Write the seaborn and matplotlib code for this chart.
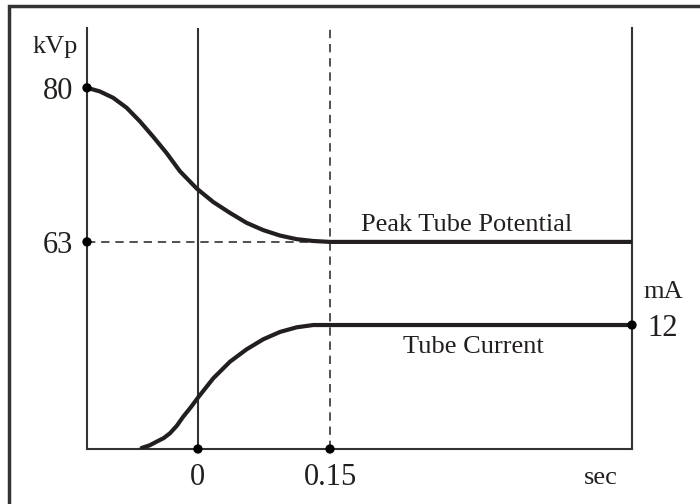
import matplotlib
matplotlib.use("Agg")
import matplotlib.pyplot as plt
import seaborn as sns
import pandas as pd
from matplotlib.patches import Rectangle

# ---- data ----
kvp_t = [-0.1258, -0.1114, -0.0963, -0.0810, -0.0659, -0.0508, -0.0356, -0.0205,
         -0.0015, 0.0174, 0.0364, 0.0553, 0.0742, 0.0932, 0.1122, 0.1310, 0.15, 0.493]
kvp_v = [80.0, 79.6, 78.9, 77.8, 76.3, 74.6, 72.8, 70.8,
         68.9, 67.4, 66.2, 65.1, 64.3, 63.7, 63.3, 63.1, 63.0, 63.0]
ma_t = [-0.064, -0.055, -0.0469, -0.0390, -0.0318, -0.0240, -0.0167, -0.0080,
        0.0003, 0.0174, 0.0364, 0.0553, 0.0742, 0.0932, 0.1122, 0.1310, 0.15, 0.493]
ma_v = [0.1, 0.35, 0.71, 1.05, 1.52, 2.25, 3.13, 4.05,
        5.0, 6.84, 8.45, 9.65, 10.62, 11.33, 11.78, 12.0, 12.0, 12.0]
x_ticks = [0, 0.15]
x_tick_labels = ["0", "0.15"]
kvp_ticks = [63, 80]
ma_ticks = [12]

sns.set_theme(style="white")
plt.rcParams["font.family"] = ["Liberation Serif", "DejaVu Serif"]
INK = "#231f20"
AX = "#333333"
NUM_FS = 22
LAB_FS = 19

fig = plt.figure(figsize=(7, 5.04), dpi=100)
fig.patch.set_facecolor("white")
# outer frame
fig.patches.append(Rectangle((9 / 700, -0.1), 1.2, 1 - 6 / 504 + 0.1,
                             transform=fig.transFigure, fill=False,
                             edgecolor=AX, linewidth=2.5))

ax = fig.add_axes([87 / 700, 1 - 449 / 504, (632 - 87) / 700, (449 - 28) / 504])
ax.set_facecolor("none")
ax.set_xlim(-0.126, 0.493)
ax.set_ylim(40.15, 86.6)
for s in ["left", "bottom", "right"]:
    ax.spines[s].set_color(AX)
    ax.spines[s].set_linewidth(1.5)
ax.spines["top"].set_visible(False)

ax2 = ax.twinx()
ax2.set_ylim(0, 40.75)
for s in ax2.spines.values():
    s.set_visible(False)

df1 = pd.DataFrame({"t": kvp_t, "v": kvp_v})
df2 = pd.DataFrame({"t": ma_t, "v": ma_v})

# reference lines
ax.axvline(0, color=AX, lw=1.5, zorder=1)
ax.axvline(0.15, color=AX, lw=1.2, ls=(0, (5, 3.5)), zorder=1)
ax.plot([-0.126, 0.14], [63, 63], color=AX, lw=1.2, ls=(0, (5, 3.5)), zorder=1)

sns.lineplot(data=df1, x="t", y="v", ax=ax, color=INK, lw=3.0, zorder=3,
             solid_joinstyle="round")
sns.lineplot(data=df2, x="t", y="v", ax=ax2, color=INK, lw=3.0, zorder=3,
             solid_joinstyle="round")

# dots
sns.scatterplot(x=[-0.126, -0.126], y=kvp_ticks[::-1], ax=ax, color="black", s=45,
                edgecolor="none", zorder=5, clip_on=False)
sns.scatterplot(x=x_ticks, y=[40.15, 40.15], ax=ax, color="black", s=45,
                edgecolor="none", zorder=5, clip_on=False)
sns.scatterplot(x=[0.493], y=ma_ticks, ax=ax2, color="black", s=45,
                edgecolor="none", zorder=5, clip_on=False)

# ticks
ax.set_xticks(x_ticks)
ax.set_xticklabels(x_tick_labels, fontsize=NUM_FS, color=INK)
ax.set_yticks(kvp_ticks)
ax.set_yticklabels([str(v) for v in kvp_ticks], fontsize=NUM_FS, color=INK)
ax.tick_params(axis="y", length=0, pad=10)
ax.tick_params(axis="x", length=0, pad=10)
ax2.set_yticks(ma_ticks)
ax2.set_yticklabels([str(v) for v in ma_ticks], fontsize=NUM_FS, color=INK)
ax2.tick_params(axis="y", length=0, pad=11)
ax.set_xlabel("")
ax.set_ylabel("")
ax2.set_ylabel("")

ax.text(-0.1625, 84.5, "kVp", fontsize=LAB_FS, color=INK, ha="center", va="center",
        clip_on=False)
ax2.text(0.528, 15.2, "mA", fontsize=LAB_FS, color=INK, ha="center", va="center",
         clip_on=False)
ax.text(0.458, 36.95, "sec", fontsize=LAB_FS, color=INK, ha="center", va="center",
        clip_on=False)
ax.text(0.305, 64.9, "Peak Tube Potential", fontsize=LAB_FS, color=INK,
        ha="center", va="center")
ax2.text(0.3125, 9.87, "Tube Current", fontsize=LAB_FS, color=INK,
         ha="center", va="center")

fig.savefig("out.png", dpi=100)
